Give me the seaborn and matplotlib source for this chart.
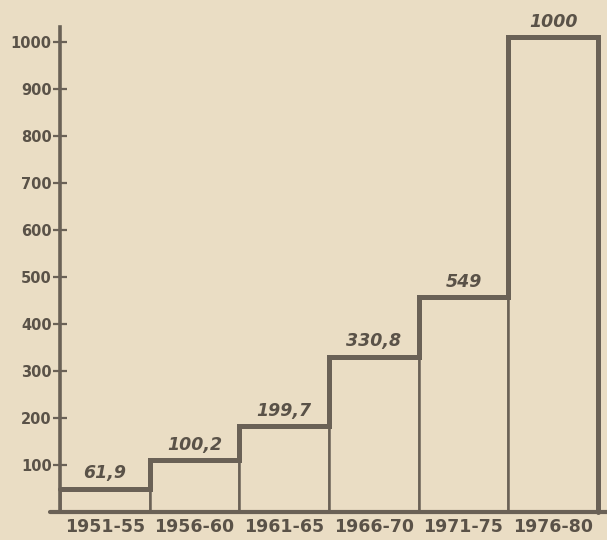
import matplotlib.pyplot as plt
import seaborn as sns

# periods and values
periods = ["1951-55", "1956-60", "1961-65", "1966-70", "1971-75", "1976-80"]
value_labels = ["61,9", "100,2", "199,7", "330,8", "549", "1000"]
# bar heights as they are drawn in the scan (the drawing is not to scale)
drawn_heights = [49, 110, 182, 330, 457, 1010]
y_ticks = [100, 200, 300, 400, 500, 600, 700, 800, 900, 1000]

bg = "#eaddc4"
ink = "#6a6156"
text_ink = "#5a5248"

sns.set_style("white")
plt.rcParams["font.family"] = ["DejaVu Sans"]

fig = plt.figure(figsize=(6.07, 5.40), dpi=100, facecolor=bg)
ax = fig.add_axes([60 / 607, 1 - 512 / 540, 538 / 607, 485 / 540])
ax.set_facecolor(bg)

sns.barplot(x=periods, y=drawn_heights, width=1.0, color=bg, saturation=1,
            edgecolor=ink, linewidth=1.8, ax=ax)

# thick stepped outline over the bars
xs, ys = [], []
for p in ax.patches:
    left, right, h = p.get_x(), p.get_x() + p.get_width(), p.get_height()
    xs += [left, right]
    ys += [h, h]
xs.append(xs[-1])
ys.append(0)
ax.plot(xs, ys, color=ink, lw=3.6, solid_joinstyle="miter", zorder=3,
        clip_on=False)

# baseline running a little past the axis
ax.plot([-0.61, 5.6], [0, 0], color=ink, lw=3.0, clip_on=False, zorder=4)

for p, lab in zip(ax.patches, value_labels):
    ax.text(p.get_x() + p.get_width() / 2, p.get_height() + 14, lab,
            ha="center", va="bottom", fontsize=12.5, fontweight="bold",
            fontstyle="italic", color=text_ink)

ax.set_xlim(-0.5, 5.5)
ax.set_ylim(0, 1032)
ax.set_yticks(y_ticks)
ax.set_yticklabels([str(t) for t in y_ticks], fontsize=10.5,
                   fontweight="bold", color=text_ink)
ax.tick_params(axis="y", direction="inout", length=10, width=1.6,
               color=ink, pad=1, left=True)
ax.tick_params(axis="x", length=0, pad=4, labelsize=12.5, labelcolor=text_ink)
for t in ax.get_xticklabels():
    t.set_fontweight("bold")

for s in ["top", "right", "bottom"]:
    ax.spines[s].set_visible(False)
ax.spines["left"].set_color(ink)
ax.spines["left"].set_linewidth(2.6)
ax.set_xlabel("")
ax.set_ylabel("")

fig.savefig("out.png", dpi=100, facecolor=bg)
